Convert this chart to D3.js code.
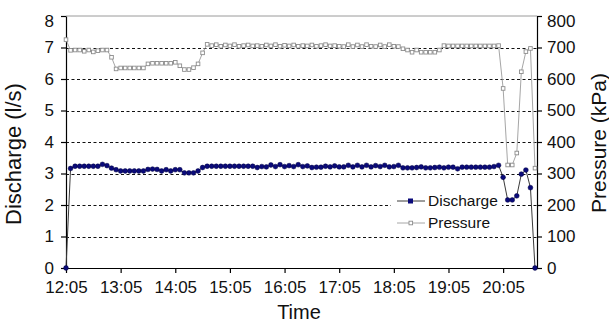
<!DOCTYPE html>
<html>
<head>
<meta charset="utf-8">
<script src="https://cdn.jsdelivr.net/npm/d3@7"></script>
<style>
  body { margin: 0; background: #fff; }
  svg { display: block; font-family: "Liberation Sans", Arial, sans-serif; }
</style>
</head>
<body>
<svg id="chart" width="609" height="323"></svg>
<script>
// readings every 5 minutes from 12:05 to 20:40
const startTime = "12:05";
const stepMinutes = 5;

const discharge = [
  0, 3.16, 3.23, 3.23, 3.23, 3.23, 3.23, 3.23, 3.29, 3.25,
  3.17, 3.12, 3.08, 3.08, 3.08, 3.08, 3.08, 3.08, 3.13, 3.14,
  3.13, 3.08, 3.12, 3.08, 3.12, 3.12, 3.02, 3.02, 3.02, 3.08,
  3.19, 3.23, 3.23, 3.23, 3.23, 3.23, 3.23, 3.23, 3.23, 3.23,
  3.23, 3.23, 3.19, 3.22, 3.21, 3.27, 3.22, 3.28, 3.22, 3.25,
  3.22, 3.28, 3.22, 3.24, 3.19, 3.20, 3.20, 3.23, 3.21, 3.24,
  3.21, 3.21, 3.26, 3.21, 3.26, 3.21, 3.26, 3.21, 3.25, 3.22,
  3.26, 3.21, 3.22, 3.26, 3.18, 3.18, 3.18, 3.19, 3.21, 3.18,
  3.18, 3.19, 3.20, 3.18, 3.20, 3.20, 3.15, 3.20, 3.20, 3.20,
  3.20, 3.20, 3.20, 3.20, 3.22, 3.26, 2.88, 2.16, 2.16, 2.29,
  2.98, 3.11, 2.55, 0
];

const pressure = [
  725, 691, 692, 692, 688, 692, 686, 690, 692, 692,
  669, 632, 635, 635, 635, 635, 635, 635, 648, 650,
  650, 650, 650, 650, 653, 642, 630, 630, 636, 648,
  683, 710, 706, 709, 704, 708, 705, 709, 704, 706,
  708, 705, 706, 704, 708, 705, 709, 704, 707, 705,
  708, 704, 706, 705, 708, 704, 706, 709, 705, 706,
  704, 703, 709, 703, 708, 703, 709, 704, 703, 708,
  703, 709, 704, 703, 696, 692, 685, 692, 685, 685,
  685, 685, 692, 706, 705, 705, 705, 705, 705, 705,
  705, 705, 705, 705, 705, 706, 570, 327, 327, 365,
  623, 687, 697, 317
];

const timeTicks = ["12:05", "13:05", "14:05", "15:05", "16:05", "17:05", "18:05", "19:05", "20:05"];
const dischargeTicks = [0, 1, 2, 3, 4, 5, 6, 7, 8];
const pressureTicks = [0, 100, 200, 300, 400, 500, 600, 700, 800];

const parse = d3.timeParse("%H:%M");
const fmt = d3.timeFormat("%H:%M");
const t0 = parse(startTime);
const times = discharge.map((_, i) => d3.timeMinute.offset(t0, i * stepMinutes));

const svg = d3.select("#chart");
const plotLeft = 66, plotRight = 537, plotTop = 16, plotBottom = 268;

const x = d3.scaleTime()
  .domain([times[0], times[times.length - 1]])
  .range([plotLeft, 535]);
const yL = d3.scaleLinear().domain([0, 8]).range([plotBottom, plotTop]);
const yR = d3.scaleLinear().domain([0, 800]).range([plotBottom, plotTop]);

// top border of plot area
svg.append("line")
  .attr("x1", plotLeft).attr("x2", plotRight)
  .attr("y1", plotTop).attr("y2", plotTop)
  .attr("stroke", "#9a9a9a").attr("stroke-width", 1);

// dashed gridlines
svg.append("g")
  .selectAll("line")
  .data(dischargeTicks.filter(d => d > 0 && d < 8))
  .enter()
  .append("line")
  .attr("x1", plotLeft).attr("x2", plotRight)
  .attr("y1", d => Math.round(yL(d)) + 0.5)
  .attr("y2", d => Math.round(yL(d)) + 0.5)
  .attr("stroke", "#111")
  .attr("stroke-width", 1.2)
  .attr("stroke-dasharray", "3,2.5");

// axes
const axisLeft = svg.append("g")
  .attr("transform", "translate(" + plotLeft + ",0)")
  .call(d3.axisLeft(yL).tickValues(dischargeTicks).tickSize(5).tickSizeOuter(0).tickPadding(7));

const axisRight = svg.append("g")
  .attr("transform", "translate(" + plotRight + ",0)")
  .call(d3.axisRight(yR).tickValues(pressureTicks).tickSize(5).tickSizeOuter(0).tickPadding(5));

const axisBottom = svg.append("g")
  .attr("transform", "translate(0," + plotBottom + ")")
  .call(d3.axisBottom(x).tickValues(timeTicks.map(parse)).tickFormat(fmt)
    .tickSize(5).tickSizeOuter(0).tickPadding(8));

// bottom axis line must run to the right axis
axisBottom.select(".domain").attr("d", "M" + plotLeft + ",0.5H" + plotRight);

[axisLeft, axisRight, axisBottom].forEach(a => {
  a.selectAll("path, line").attr("stroke", "#000").attr("stroke-width", 1.2);
  a.selectAll("text")
    .attr("fill", "#111")
    .style("font-size", "17px")
    .style("font-family", "'Liberation Sans', Arial, sans-serif");
});

// top labels sit a bit lower than their tick
axisLeft.selectAll("text").filter(d => d === 8).attr("dy", "0.64em");
axisRight.selectAll("text").filter(d => d === 800).attr("dy", "0.64em");

// axis titles
svg.append("text")
  .attr("transform", "translate(21,154) rotate(-90)")
  .attr("text-anchor", "middle")
  .style("font-size", "22px")
  .attr("fill", "#111")
  .text("Discharge (l/s)");

svg.append("text")
  .attr("transform", "translate(606,143) rotate(-90)")
  .attr("text-anchor", "middle")
  .style("font-size", "21px")
  .attr("fill", "#111")
  .text("Pressure (kPa)");

svg.append("text")
  .attr("x", 299)
  .attr("y", 319)
  .attr("text-anchor", "middle")
  .style("font-size", "20px")
  .attr("fill", "#111")
  .text("Time");

// pressure series
const pressLine = d3.line()
  .x((d, i) => x(times[i]))
  .y(d => yR(d));

svg.append("path")
  .datum(pressure)
  .attr("d", pressLine)
  .attr("fill", "none")
  .attr("stroke", "#a6a6a6")
  .attr("stroke-width", 1);

svg.append("g")
  .selectAll("rect")
  .data(pressure)
  .enter()
  .append("rect")
  .attr("x", (d, i) => x(times[i]) - 1.8)
  .attr("y", d => yR(d) - 1.8)
  .attr("width", 3.6)
  .attr("height", 3.6)
  .attr("fill", "#fff")
  .attr("stroke", "#8c8c8c")
  .attr("stroke-width", 0.9);

// discharge series
const disLine = d3.line()
  .x((d, i) => x(times[i]))
  .y(d => yL(d));

svg.append("path")
  .datum(discharge)
  .attr("d", disLine)
  .attr("fill", "none")
  .attr("stroke", "#3a3a3a")
  .attr("stroke-width", 1);

svg.append("g")
  .selectAll("circle")
  .data(discharge)
  .enter()
  .append("circle")
  .attr("cx", (d, i) => x(times[i]))
  .attr("cy", d => yL(d))
  .attr("r", 2.4)
  .attr("fill", "#0a0a7a")
  .attr("stroke", "#000040")
  .attr("stroke-width", 0.5);

// legend
const legend = svg.append("g");
legend.append("rect")
  .attr("x", 391).attr("y", 191)
  .attr("width", 111).attr("height", 41)
  .attr("fill", "#fff");

const legendItems = ["Discharge", "Pressure"];
legendItems.forEach((name, i) => {
  const cy = 201 + i * 22;
  legend.append("line")
    .attr("x1", 397).attr("x2", 425)
    .attr("y1", cy).attr("y2", cy)
    .attr("stroke", i === 0 ? "#3a3a3a" : "#a6a6a6")
    .attr("stroke-width", 1);
  if (i === 0) {
    legend.append("rect")
      .attr("x", 408).attr("y", cy - 2.5)
      .attr("width", 5).attr("height", 5)
      .attr("fill", "#0a0a7a");
  } else {
    legend.append("rect")
      .attr("x", 409).attr("y", cy - 1.8)
      .attr("width", 3.6).attr("height", 3.6)
      .attr("fill", "#fff").attr("stroke", "#8c8c8c").attr("stroke-width", 0.9);
  }
  legend.append("text")
    .attr("x", 428)
    .attr("y", cy)
    .attr("dy", "0.35em")
    .style("font-size", "15.5px")
    .attr("fill", "#111")
    .text(name);
});
</script>
</body>
</html>
